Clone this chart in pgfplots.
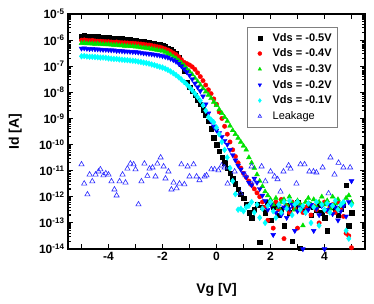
\documentclass[border=0pt]{standalone}
\usepackage{fontspec}
\setmainfont{Liberation Sans}
\usepackage{pgfplots}
\pgfplotsset{compat=1.18}
\definecolor{cblack}{RGB}{0,0,0}
\definecolor{cred}{RGB}{255,0,0}
\definecolor{cgreen}{RGB}{0,225,0}
\definecolor{cblue}{RGB}{0,0,255}
\definecolor{ccyan}{RGB}{0,255,255}
\definecolor{cleak}{RGB}{40,40,255}
\begin{document}
\begin{tikzpicture}
\begin{axis}[
  scale only axis, width=297pt, height=235pt,
  xmin=-5.5, xmax=5.5, ymin=1e-14, ymax=1e-5, ymode=log,
  axis line style={line width=1.5pt},
  tick align=inside,
  major tick length=5pt, minor tick length=3pt,
  every tick/.style={line width=1.2pt, black},
  xtick={-4,-2,0,2,4}, xticklabels={-4,-2,0,2,4},
  extra x ticks={-5,-3,-1,1,3,5}, extra x tick labels={},
  ytick={1e-14,1e-13,1e-12,1e-11,1e-10,1e-9,1e-8,1e-7,1e-6,1e-5},
  yticklabels={10\textsuperscript{-14},10\textsuperscript{-13},10\textsuperscript{-12},10\textsuperscript{-11},10\textsuperscript{-10},10\textsuperscript{-9},10\textsuperscript{-8},10\textsuperscript{-7},10\textsuperscript{-6},10\textsuperscript{-5}},
  minor ytick={2e-14,3e-14,4e-14,5e-14,6e-14,7e-14,8e-14,9e-14,
    2e-13,3e-13,4e-13,5e-13,6e-13,7e-13,8e-13,9e-13,
    2e-12,3e-12,4e-12,5e-12,6e-12,7e-12,8e-12,9e-12,
    2e-11,3e-11,4e-11,5e-11,6e-11,7e-11,8e-11,9e-11,
    2e-10,3e-10,4e-10,5e-10,6e-10,7e-10,8e-10,9e-10,
    2e-9,3e-9,4e-9,5e-9,6e-9,7e-9,8e-9,9e-9,
    2e-8,3e-8,4e-8,5e-8,6e-8,7e-8,8e-8,9e-8,
    2e-7,3e-7,4e-7,5e-7,6e-7,7e-7,8e-7,9e-7,
    2e-6,3e-6,4e-6,5e-6,6e-6,7e-6,8e-6,9e-6},
  ticklabel style={font=\fontsize{12}{14}\selectfont\bfseries},
  xlabel={Vg [V]}, ylabel={Id [A]},
  label style={font=\fontsize{14}{16}\selectfont\bfseries},
  xlabel style={at={(axis description cs:0.5,-0.172)}, anchor=center},
  ylabel style={at={(axis description cs:-0.178,0.5)}, anchor=center, rotate=0},
  legend style={at={(0.603,0.945)}, anchor=north west, draw=gray, fill=white,
    font=\fontsize{11}{13}\selectfont\bfseries, row sep=2.2pt, inner xsep=4pt, inner ysep=4pt},
  legend image code/.code={\path[draw=none,fill=none] (0cm,0cm) (0.68cm,0cm); \draw[#1, mark size=2pt] plot coordinates {(0.3cm,0cm)};},
  legend cell align=left,
]
\addplot[only marks, mark=square*, mark size=2.2pt, color=cblack] table {
x y
-5.0 1.41e-6
-4.9 1.45e-6
-4.8 1.38e-6
-4.7 1.38e-6
-4.6 1.35e-6
-4.5 1.32e-6
-4.4 1.35e-6
-4.3 1.29e-6
-4.2 1.26e-6
-4.1 1.26e-6
-4.0 1.23e-6
-3.9 1.20e-6
-3.8 1.17e-6
-3.7 1.17e-6
-3.6 1.12e-6
-3.5 1.12e-6
-3.4 1.10e-6
-3.3 1.05e-6
-3.2 1.02e-6
-3.1 1.00e-6
-3.0 9.5e-7
-2.9 9.3e-7
-2.8 8.9e-7
-2.7 8.7e-7
-2.6 8.3e-7
-2.5 7.9e-7
-2.4 7.6e-7
-2.3 7.2e-7
-2.2 6.9e-7
-2.1 6.6e-7
-2.0 6.2e-7
-1.9 5.6e-7
-1.8 5.0e-7
-1.7 4.4e-7
-1.6 3.7e-7
-1.5 3.0e-7
-1.4 2.2e-7
-1.3 1.26e-7
-1.2 6.3e-8
-1.1 2.5e-8
-1.0 1.58e-8
-0.9 1.12e-8
-0.8 7.9e-9
-0.7 5.0e-9
-0.6 3.5e-9
-0.5 2.2e-9
-0.4 1.4e-9
-0.3 7.9e-10
-0.2 4.0e-10
-0.1 1.8e-10
0.0 1.0e-10
0.1 5.6e-11
0.2 3.2e-11
0.3 2.0e-11
0.4 1.26e-11
0.5 7.9e-12
0.6 5.0e-12
0.7 3.2e-12
0.8 2.0e-12
0.9 1.26e-12
1.0 8.9e-13
1.1 5.0e-13
1.2 2.5e-13
1.3 1.58e-13
1.4 3.2e-13
1.5 5.0e-13
1.6 1.8e-14
1.7 4.0e-13
1.8 2.5e-13
1.9 6.3e-13
2.0 1.26e-13
2.1 4.0e-13
2.2 5.0e-13
2.3 2.0e-13
2.4 3.2e-13
2.5 7.9e-14
2.6 4.5e-13
2.7 2.5e-13
2.8 2.0e-14
2.9 4.0e-13
3.0 6.3e-13
3.1 1.1e-14
3.2 3.2e-13
3.3 3.5e-13
3.4 5.0e-13
3.5 2.0e-13
3.6 4.0e-13
3.7 3.2e-13
3.8 5.0e-13
3.9 2.5e-13
4.0 1.6e-13
4.1 5.0e-14
4.2 4.0e-13
4.3 4.5e-13
4.4 3.2e-13
4.5 2.0e-13
4.6 3.5e-13
4.7 5.0e-13
4.8 2.8e-12
4.9 7.9e-14
5.0 2.5e-13
};
\addlegendentry{Vds = -0.5V}
\addplot[only marks, mark=*, mark size=2.2pt, color=cred] table {
x y
-5.0 1.00e-6
-4.9 1.02e-6
-4.8 9.8e-7
-4.7 9.5e-7
-4.6 9.8e-7
-4.5 9.3e-7
-4.4 9.1e-7
-4.3 9.1e-7
-4.2 8.9e-7
-4.1 8.7e-7
-4.0 8.7e-7
-3.9 8.5e-7
-3.8 8.3e-7
-3.7 8.5e-7
-3.6 8.1e-7
-3.5 7.9e-7
-3.4 7.9e-7
-3.3 7.8e-7
-3.2 7.6e-7
-3.1 7.6e-7
-3.0 7.4e-7
-2.9 7.2e-7
-2.8 7.1e-7
-2.7 6.9e-7
-2.6 6.6e-7
-2.5 6.5e-7
-2.4 6.2e-7
-2.3 5.9e-7
-2.2 5.6e-7
-2.1 5.4e-7
-2.0 5.0e-7
-1.9 4.6e-7
-1.8 4.2e-7
-1.7 3.7e-7
-1.6 3.2e-7
-1.5 2.8e-7
-1.4 2.3e-7
-1.3 1.78e-7
-1.2 1.41e-7
-1.1 1.26e-7
-1.0 1.12e-7
-0.9 9.5e-8
-0.8 7.6e-8
-0.7 5.6e-8
-0.6 4.0e-8
-0.5 2.8e-8
-0.4 1.9e-8
-0.3 1.26e-8
-0.2 8.9e-9
-0.1 5.6e-9
0.0 3.5e-9
0.1 1.78e-9
0.2 1.0e-9
0.3 5.0e-10
0.4 2.5e-10
0.5 1.26e-10
0.6 6.3e-11
0.7 3.5e-11
0.8 2.0e-11
0.9 1.26e-11
1.0 7.9e-12
1.1 5.6e-12
1.2 4.0e-12
1.3 2.8e-12
1.4 2.0e-12
1.5 1.41e-12
1.6 1.0e-12
1.7 6.3e-13
1.8 4.0e-13
1.9 1.26e-13
2.0 5.0e-13
2.1 6.3e-14
2.2 6.3e-13
2.3 3.2e-13
2.4 7.9e-13
2.5 2.5e-14
2.6 4.5e-13
2.7 2.5e-13
2.8 6.3e-13
2.9 3.5e-13
3.0 6.3e-14
3.1 5.0e-13
3.2 2.5e-13
3.3 4.0e-13
3.4 5.6e-13
3.5 2.0e-13
3.6 4.5e-13
3.7 3.2e-13
3.8 1.0e-13
3.9 5.0e-13
4.0 6.3e-13
4.1 2.8e-13
4.2 4.0e-13
4.3 5.0e-13
4.4 2.5e-13
4.5 6.3e-13
4.6 3.2e-13
4.7 1.78e-13
4.8 4.0e-14
4.9 3.2e-14
5.0 1.12e-14
};
\addlegendentry{Vds = -0.4V}
\addplot[only marks, mark=triangle*, mark size=2.8pt, color=cgreen] table {
x y
-5.0 7.6e-7
-4.9 7.8e-7
-4.8 7.4e-7
-4.7 7.4e-7
-4.6 7.2e-7
-4.5 7.1e-7
-4.4 7.2e-7
-4.3 6.9e-7
-4.2 6.9e-7
-4.1 6.8e-7
-4.0 6.8e-7
-3.9 6.6e-7
-3.8 6.5e-7
-3.7 6.5e-7
-3.6 6.2e-7
-3.5 6.2e-7
-3.4 6.0e-7
-3.3 5.9e-7
-3.2 5.8e-7
-3.1 5.8e-7
-3.0 5.6e-7
-2.9 5.5e-7
-2.8 5.2e-7
-2.7 5.1e-7
-2.6 5.0e-7
-2.5 4.8e-7
-2.4 4.6e-7
-2.3 4.4e-7
-2.2 4.2e-7
-2.1 4.0e-7
-2.0 3.8e-7
-1.9 3.5e-7
-1.8 3.1e-7
-1.7 2.75e-7
-1.6 2.3e-7
-1.5 2.0e-7
-1.4 1.62e-7
-1.3 1.32e-7
-1.2 1.05e-7
-1.1 8.1e-8
-1.0 6.3e-8
-0.9 4.8e-8
-0.8 3.5e-8
-0.7 2.6e-8
-0.6 1.9e-8
-0.5 1.41e-8
-0.4 1.05e-8
-0.3 7.9e-9
-0.2 5.9e-9
-0.1 4.3e-9
0.0 3.2e-9
0.1 2.2e-9
0.2 1.58e-9
0.3 1.12e-9
0.4 7.9e-10
0.5 5.2e-10
0.6 3.5e-10
0.7 2.5e-10
0.8 1.78e-10
0.9 1.26e-10
1.0 8.9e-11
1.1 6.3e-11
1.2 3.2e-11
1.3 2.0e-11
1.4 1.26e-11
1.5 7.1e-12
1.6 4.0e-12
1.7 2.5e-12
1.8 1.58e-12
1.9 1.12e-12
2.0 7.9e-13
2.1 5.0e-13
2.2 8.9e-13
2.3 4.0e-13
2.4 6.3e-13
2.5 7.9e-13
2.6 4.5e-13
2.7 1.0e-12
2.8 5.6e-13
2.9 3.2e-13
3.0 7.1e-13
3.1 5.0e-13
3.2 7.9e-14
3.3 6.3e-13
3.4 8.9e-13
3.5 5.0e-13
3.6 7.9e-13
3.7 4.0e-13
3.8 6.3e-13
3.9 1.0e-12
4.0 5.0e-13
4.1 7.1e-13
4.2 3.5e-13
4.3 1.0e-12
4.4 5.6e-13
4.5 7.9e-13
4.6 4.5e-13
4.7 6.3e-13
4.8 8.9e-13
4.9 1.12e-12
5.0 6.3e-13
};
\addlegendentry{Vds = -0.3V}
\addplot[only marks, mark=triangle*, mark options={rotate=180}, mark size=2.8pt, color=cblue] table {
x y
-5.0 4.8e-7
-4.9 4.9e-7
-4.8 4.7e-7
-4.7 4.6e-7
-4.6 4.7e-7
-4.5 4.5e-7
-4.4 4.5e-7
-4.3 4.4e-7
-4.2 4.3e-7
-4.1 4.3e-7
-4.0 4.2e-7
-3.9 4.1e-7
-3.8 4.1e-7
-3.7 3.9e-7
-3.6 3.9e-7
-3.5 3.8e-7
-3.4 3.7e-7
-3.3 3.7e-7
-3.2 3.6e-7
-3.1 3.55e-7
-3.0 3.5e-7
-2.9 3.4e-7
-2.8 3.3e-7
-2.7 3.16e-7
-2.6 3.1e-7
-2.5 3.0e-7
-2.4 2.9e-7
-2.3 2.8e-7
-2.2 2.7e-7
-2.1 2.6e-7
-2.0 2.45e-7
-1.9 2.3e-7
-1.8 2.15e-7
-1.7 1.95e-7
-1.6 1.74e-7
-1.5 1.51e-7
-1.4 1.26e-7
-1.3 1.0e-7
-1.2 7.9e-8
-1.1 6.0e-8
-1.0 4.5e-8
-0.9 3.2e-8
-0.8 2.2e-8
-0.7 1.58e-8
-0.6 1.12e-8
-0.5 7.1e-9
-0.4 3.5e-9
-0.3 1.58e-9
-0.2 7.9e-10
-0.1 5.0e-10
0.0 3.5e-10
0.1 2.8e-10
0.2 2.0e-10
0.3 1.41e-10
0.4 1.0e-10
0.5 6.3e-11
0.6 4.0e-11
0.7 2.5e-11
0.8 1.58e-11
0.9 1.12e-11
1.0 7.9e-12
1.1 5.6e-12
1.2 3.5e-12
1.3 2.8e-12
1.4 5.0e-12
1.5 3.5e-12
1.6 2.0e-12
1.7 1.12e-12
1.8 7.1e-13
1.9 3.2e-13
2.0 5.0e-13
2.1 3.5e-14
2.2 2.5e-13
2.3 4.5e-13
2.4 2.0e-13
2.5 4.0e-13
2.6 1.58e-13
2.7 3.5e-13
2.8 5.0e-13
2.9 5.0e-14
3.0 2.8e-13
3.1 4.0e-13
3.2 1.0e-14
3.3 2.5e-13
3.4 3.2e-13
3.5 5.0e-13
3.6 5.0e-14
3.7 3.5e-13
3.8 2.0e-13
3.9 4.5e-13
4.0 1.0e-14
4.1 3.2e-13
4.2 5.0e-13
4.3 2.2e-13
4.4 4.0e-13
4.5 1.26e-13
4.6 2.8e-13
4.7 4.5e-13
4.8 1.78e-13
4.9 6.3e-13
5.0 4.0e-12
};
\addlegendentry{Vds = -0.2V}
\addplot[only marks, mark=diamond*, mark size=2.9pt, color=ccyan] table {
x y
-5.0 2.4e-7
-4.9 2.45e-7
-4.8 2.35e-7
-4.7 2.3e-7
-4.6 2.3e-7
-4.5 2.25e-7
-4.4 2.2e-7
-4.3 2.15e-7
-4.2 2.15e-7
-4.1 2.1e-7
-4.0 2.0e-7
-3.9 1.95e-7
-3.8 1.9e-7
-3.7 1.9e-7
-3.6 1.82e-7
-3.5 1.78e-7
-3.4 1.74e-7
-3.3 1.7e-7
-3.2 1.66e-7
-3.1 1.62e-7
-3.0 1.58e-7
-2.9 1.51e-7
-2.8 1.45e-7
-2.7 1.38e-7
-2.6 1.32e-7
-2.5 1.26e-7
-2.4 1.17e-7
-2.3 1.10e-7
-2.2 1.02e-7
-2.1 9.5e-8
-2.0 8.9e-8
-1.9 8.1e-8
-1.8 7.2e-8
-1.7 6.3e-8
-1.6 5.4e-8
-1.5 4.6e-8
-1.4 3.8e-8
-1.3 3.1e-8
-1.2 2.5e-8
-1.1 2.0e-8
-1.0 1.58e-8
-0.9 1.2e-8
-0.8 8.9e-9
-0.7 6.6e-9
-0.6 4.8e-9
-0.5 3.2e-9
-0.4 2.0e-9
-0.3 1.12e-9
-0.2 8.9e-10
-0.1 7.1e-10
0.0 4.5e-10
0.1 2.5e-10
0.2 1.26e-10
0.3 6.3e-11
0.4 3.2e-11
0.5 1.26e-11
0.6 4.0e-12
0.7 1.26e-12
0.8 3.2e-13
0.9 3.5e-13
1.0 2.8e-13
1.1 4.0e-13
1.2 4.5e-13
1.3 6.3e-13
1.4 2.5e-13
1.5 5.0e-13
1.6 1.58e-13
1.7 3.5e-13
1.8 1.0e-13
1.9 4.5e-13
2.0 6.3e-13
2.1 2.8e-13
2.2 1.58e-13
2.3 5.0e-13
2.4 2.5e-13
2.5 6.3e-13
2.6 3.5e-13
2.7 7.1e-13
2.8 2.0e-13
2.9 5.0e-13
3.0 6.3e-13
3.1 3.2e-13
3.2 4.5e-13
3.3 2.5e-13
3.4 5.6e-13
3.5 1.0e-13
3.6 4.0e-13
3.7 6.3e-13
3.8 7.9e-14
3.9 5.0e-13
4.0 3.2e-13
4.1 5.6e-13
4.2 2.5e-13
4.3 4.5e-13
4.4 7.1e-13
4.5 3.2e-13
4.6 5.0e-13
4.7 6.3e-13
4.8 5.0e-14
4.9 2.5e-14
5.0 5.0e-13
};
\addlegendentry{Vds = -0.1V}
\addplot[only marks, mark=triangle, mark size=3pt, color=cleak, mark options={line width=0.6pt}] table {
x y
-5.0 1.74e-11
-4.9 3.2e-12
-4.78 1.23e-12
-4.7 7.1e-12
-4.6 3.9e-12
-4.48 7.1e-12
-4.37 9.3e-12
-4.3 1.12e-11
-4.19 6.6e-12
-4.1 7.9e-12
-4.0 7.1e-12
-3.89 3.9e-12
-3.78 1.9e-12
-3.7 1.12e-12
-3.59 3.9e-12
-3.48 7.1e-12
-3.37 3.5e-12
-3.3 1.2e-11
-3.19 1.86e-11
-3.07 1.74e-11
-3.0 1.12e-11
-2.89 5.1e-13
-2.78 3.9e-12
-2.67 1.86e-11
-2.56 6.3e-12
-2.48 1.2e-11
-2.37 1.32e-11
-2.26 6.0e-12
-2.19 1.86e-11
-2.07 3.2e-11
-1.96 1.45e-11
-1.89 5.0e-12
-1.78 9.3e-12
-1.67 1.9e-12
-1.59 3.5e-12
-1.48 2.1e-12
-1.37 3.2e-12
-1.3 1.74e-11
-1.19 3.0e-12
-1.07 1.45e-11
-1.0 6.0e-12
-0.85 1.74e-11
-0.74 6.0e-12
-0.63 4.3e-12
-0.44 6.0e-12
-0.37 6.6e-12
-0.19 1.12e-11
-0.07 1.12e-11
0.07 1.02e-11
0.19 1.58e-11
0.3 1.32e-11
0.41 3.2e-12
0.67 9.3e-12
0.89 1.35e-12
1.07 6.6e-12
1.3 1.45e-11
1.41 3.9e-12
1.67 1.45e-11
1.81 3.9e-12
2.0 9.3e-12
2.15 6.0e-12
2.26 4.7e-12
2.37 1.58e-12
2.48 9.3e-12
2.67 1.58e-11
2.74 1.2e-11
2.96 3.2e-12
3.11 1.74e-11
3.26 1.74e-11
3.44 9.3e-12
3.59 9.3e-12
3.7 8.5e-12
3.93 1.32e-11
4.15 1.35e-12
4.22 3.2e-11
4.37 7.1e-12
4.52 2.0e-11
4.7 1.32e-11
4.95 1.32e-11
};
\addlegendentry{\mdseries Leakage}
\end{axis}
\pgfresetboundingbox
\path[use as bounding box] (-68pt,-55pt) rectangle (306pt,249pt);
\end{tikzpicture}
\end{document}
